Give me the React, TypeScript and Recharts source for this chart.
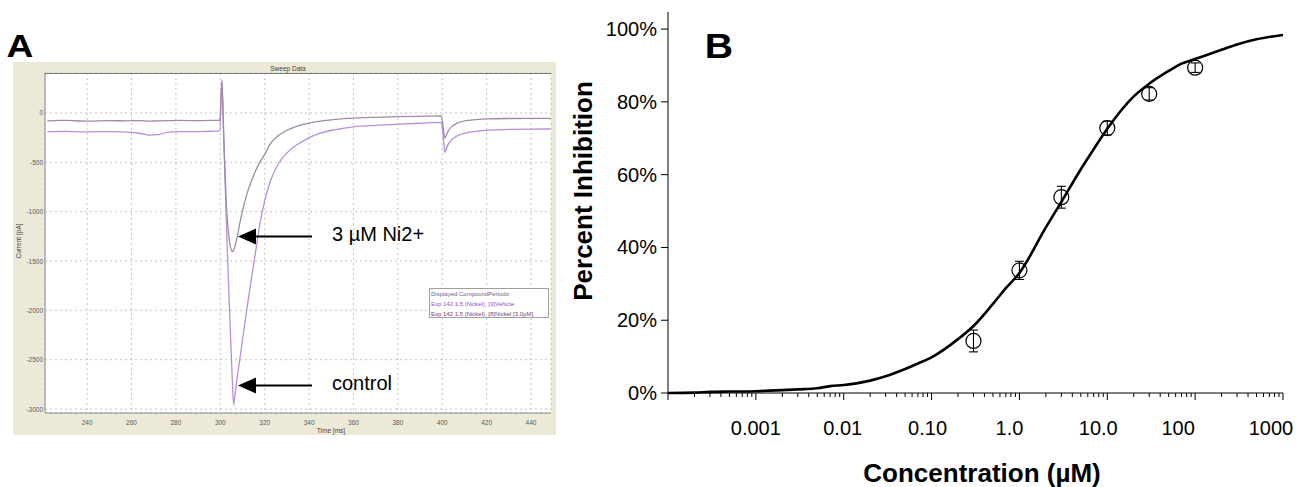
import React from "react";
import { ComposedChart, LineChart, Line, Scatter, ErrorBar, XAxis, YAxis, CartesianGrid } from "recharts";

const FONT = "'Liberation Sans', Arial, Helvetica, sans-serif";

// ---- Panel A: sweep traces (time in ms, current in pA)
const sweepTime = [
  222, 230, 240, 250, 258, 264, 268, 272, 276, 282, 290, 296, 299.8, 300.7, 301.5, 302, 302.7, 303.3, 304,
  304.7, 305.4, 306, 306.6, 307.5, 308.5, 310, 312, 314, 316, 318, 320, 322.6, 326, 330, 334, 338, 345, 352,
  360, 370, 380, 390, 399.6, 400.4, 401.2, 402, 403, 404.3, 407, 410, 415, 421, 430, 440, 449,
];
const vehicleCurrent = [
  -190, -186, -192, -188, -194, -208, -224, -220, -196, -190, -188, -185, -182, 335, -235, -590, -1085, -1480,
  -1900, -2320, -2700, -2960, -2860, -2700, -2540, -2300, -1980, -1680, -1390, -1100, -890, -690, -520, -405,
  -330, -275, -205, -168, -140, -125, -114, -104, -96, -230, -400, -350, -305, -270, -230, -206, -186, -173,
  -167, -164, -162,
];
const nickelCurrent = [
  -80, -76, -82, -78, -80, -77, -83, -80, -78, -76, -78, -75, -72, 320, -200, -520, -920, -1120, -1280, -1370,
  -1405, -1390, -1350, -1270, -1150, -990, -820, -690, -580, -490, -420, -310, -232, -175, -138, -112, -82,
  -64, -52, -44, -38, -34, -30, -140, -255, -215, -172, -138, -100, -80, -67, -59, -56, -55, -54,
];
const sweepXTicks = [240, 260, 280, 300, 320, 340, 360, 380, 400, 420, 440];
const sweepYTicks = [-3000, -2500, -2000, -1500, -1000, -500, 0];

// ---- Panel B: dose response
const doseConc = [0.3, 1, 3, 10, 30, 100];
const doseInhibition = [14.3, 33.7, 53.8, 72.8, 82.2, 89.4];
const doseError = [3.0, 2.5, 3.0, 1.9, 1.7, 1.3];
const fitConc = [
  0.0001, 0.0002, 0.0003, 0.0005, 0.001, 0.002, 0.003, 0.005, 0.007, 0.01, 0.02, 0.03, 0.05, 0.07, 0.1, 0.2,
  0.3, 0.5, 0.7, 1, 2, 3, 5, 7, 10, 20, 30, 50, 70, 100, 200, 300, 500, 1000,
];
const fitInhibition = [
  0, 0.1, 0.3, 0.4, 0.5, 0.8, 1.0, 1.3, 1.9, 2.2, 3.4, 4.6, 6.6, 8.1, 9.8, 14.8, 18.4, 24.5, 28.8, 33.0, 45.5,
  52.5, 61.5, 67.0, 72.6, 81.5, 85.0, 88.5, 90.5, 91.8, 94.3, 95.8, 97.2, 98.4,
];
const percentTicks = [0, 20, 40, 60, 80, 100];
const decadeTicks = [0.0001, 0.001, 0.01, 0.1, 1, 10, 100, 1000];
const decadeLabels = ["", "0.001", "0.01", "0.10", "1.0", "10.0", "100", "1000"];
const labelShift = [0, 0, -1, -4, -10, -9, -17, -12];

const sweepData = sweepTime.map((t, i) => ({ t, vehicle: vehicleCurrent[i], nickel: nickelCurrent[i] }));
const pointData = doseConc.map((x, i) => ({ x, y: doseInhibition[i], err: doseError[i] }));
const fitData = fitConc.map((x, i) => ({ x, y: fitInhibition[i] }));

const minorTicks: number[] = [];
decadeTicks.slice(0, -1).forEach((d) => {
  for (let m = 2; m <= 9; m++) minorTicks.push(d * m);
});
const logTicks = [...decadeTicks, ...minorTicks].sort((a, b) => a - b);

function SweepYTick({ x, y, payload }: any) {
  return (
    <text x={x - 2} y={y} textAnchor="end" dominantBaseline="central" fontSize={6.5} fill="#5a5a5a" fontFamily={FONT}>
      {payload.value}
    </text>
  );
}

function SweepXTick({ x, y, payload }: any) {
  return (
    <text x={x} y={y + 9} textAnchor="middle" dominantBaseline="central" fontSize={6.5} fill="#5a5a5a" fontFamily={FONT}>
      {payload.value}
    </text>
  );
}

function PercentTick({ x, y, payload }: any) {
  return (
    <g>
      <line x1={x - 7} x2={x} y1={y} y2={y} stroke="#000" strokeWidth={1} />
      <text x={x - 11} y={y} textAnchor="end" dominantBaseline="central" fontSize={20} fill="#000" fontFamily={FONT}>
        {payload.value}%
      </text>
    </g>
  );
}

function LogTick({ x, y, payload }: any) {
  const v = payload.value;
  const idx = decadeTicks.findIndex((t) => Math.abs(t - v) < t * 1e-6);
  const major = idx >= 0;
  return (
    <g>
      <line x1={x} x2={x} y1={y} y2={y + (major ? 7 : 4)} stroke="#000" strokeWidth={1} />
      {major && decadeLabels[idx] && (
        <text x={x + labelShift[idx]} y={y + 35} textAnchor="middle" dominantBaseline="central" fontSize={20} fill="#000" fontFamily={FONT}>
          {decadeLabels[idx]}
        </text>
      )}
    </g>
  );
}

function OpenCircle({ cx, cy }: any) {
  return <circle cx={cx} cy={cy} r={7.5} fill="none" stroke="#000" strokeWidth={1.2} />;
}

function Arrow({ y }: { y: number }) {
  return (
    <g>
      <line x1={252} y1={y} x2={312} y2={y} stroke="#000" strokeWidth={2} />
      <polygon points={`238,${y} 256,${y - 8} 256,${y + 8}`} fill="#000" />
    </g>
  );
}

export default function App() {
  return (
    <div style={{ position: "fixed", left: 0, top: 0, width: 1299, height: 487, background: "#fff", fontFamily: FONT }}>
      {/* Panel A */}
      <div style={{ position: "absolute", left: 13, top: 62, width: 543, height: 373, background: "#ece9d8" }}>
        <LineChart width={543} height={373} data={sweepData} margin={{ top: 11, right: 5, left: 0, bottom: 0 }}>
          <CartesianGrid fill="#fff" stroke="#c4c4c4" strokeDasharray="2 3" />
          <XAxis
            dataKey="t"
            type="number"
            domain={[221, 449]}
            ticks={sweepXTicks}
            interval={0}
            height={22}
            tickSize={0}
            tickMargin={0}
            tickLine={false}
            axisLine={{ stroke: "#8a8a8a" }}
            tick={<SweepXTick />}
          />
          <YAxis
            type="number"
            domain={[-3040, 405]}
            ticks={sweepYTicks}
            interval={0}
            width={32}
            tickSize={0}
            tickMargin={0}
            tickLine={false}
            axisLine={{ stroke: "#8a8a8a" }}
            tick={<SweepYTick />}
          />
          <Line dataKey="vehicle" type="monotone" stroke="#b88fdc" strokeWidth={1.3} dot={false} isAnimationActive={false} />
          <Line dataKey="nickel" type="monotone" stroke="#a08aa6" strokeWidth={1.3} dot={false} isAnimationActive={false} />
        </LineChart>
      </div>

      {/* Panel B */}
      <div style={{ position: "absolute", left: 560, top: 0 }}>
        <ComposedChart width={739} height={487} margin={{ top: 12, right: 16, left: 0, bottom: 0 }}>
          <XAxis
            dataKey="x"
            type="number"
            scale="log"
            domain={[0.0001, 1000]}
            ticks={logTicks}
            interval={0}
            height={94}
            tickSize={0}
            tickMargin={0}
            tickLine={false}
            axisLine={{ stroke: "#000" }}
            tick={<LogTick />}
          />
          <YAxis
            type="number"
            domain={[0, 104.7]}
            ticks={percentTicks}
            interval={0}
            width={108}
            tickSize={0}
            tickMargin={0}
            tickLine={false}
            axisLine={{ stroke: "#000" }}
            tick={<PercentTick />}
          />
          <Line data={fitData} dataKey="y" type="monotone" stroke="#000" strokeWidth={2.6} dot={false} isAnimationActive={false} />
          <Scatter data={pointData} dataKey="y" shape={<OpenCircle />} isAnimationActive={false}>
            <ErrorBar dataKey="err" direction="y" width={4.5} stroke="#000" strokeWidth={1.1} />
          </Scatter>
        </ComposedChart>
      </div>

      {/* annotations */}
      <svg width={1299} height={487} style={{ position: "absolute", left: 0, top: 0, pointerEvents: "none" }}>
        <text transform="translate(20,57) scale(1.2,1)" textAnchor="middle" fontSize={31} fontWeight="bold" fontFamily={FONT}>
          A
        </text>
        <text transform="translate(719,58) scale(1.12,1)" textAnchor="middle" fontSize={35} fontWeight="bold" fontFamily={FONT}>
          B
        </text>

        <line x1={45} x2={551} y1={73.5} y2={73.5} stroke="#7a7a7a" strokeWidth={1} />
        <text x={288} y={68} textAnchor="middle" dominantBaseline="central" fontSize={6.5} fill="#444" fontFamily={FONT}>
          Sweep Data
        </text>
        <text x={331} y={430.5} textAnchor="middle" dominantBaseline="central" fontSize={6.5} fill="#444" fontFamily={FONT}>
          Time [ms]
        </text>
        <text transform="translate(18,241) rotate(-90)" textAnchor="middle" dominantBaseline="central" fontSize={6.5} fill="#444" fontFamily={FONT}>
          Current [pA]
        </text>

        <rect x={429.5} y={288.5} width={119} height={29} fill="#fff" stroke="#a0a0a0" strokeWidth={1} />
        <text x={431} y={294} dominantBaseline="central" fontSize={6} fill="#6a5f86" fontFamily={FONT}>
          Displayed CompoundPeriods:
        </text>
        <text x={431} y={304} dominantBaseline="central" fontSize={6} fill="#8a52d2" fontFamily={FONT}>
          Exp 142 1.5 (Nickel), [3]Vehicle
        </text>
        <text x={431} y={313.5} dominantBaseline="central" fontSize={6} fill="#7a3c6c" fontFamily={FONT}>
          Exp 142 1.5 (Nickel), [8]Nickel [3.0µM]
        </text>

        <Arrow y={236.5} />
        <Arrow y={385.5} />
        <text x={332} y={233.7} dominantBaseline="central" fontSize={20} fill="#000" fontFamily={FONT}>
          3 µM Ni2+
        </text>
        <text x={332} y={383} dominantBaseline="central" fontSize={20} fill="#000" fontFamily={FONT}>
          control
        </text>

        <text transform="translate(583,191) rotate(-90)" textAnchor="middle" dominantBaseline="central" fontSize={26} fontWeight="bold" fontFamily={FONT}>
          Percent Inhibition
        </text>
        <text x={982} y={473} textAnchor="middle" dominantBaseline="central" fontSize={26} fontWeight="bold" fontFamily={FONT}>
          Concentration (µM)
        </text>
      </svg>
    </div>
  );
}
